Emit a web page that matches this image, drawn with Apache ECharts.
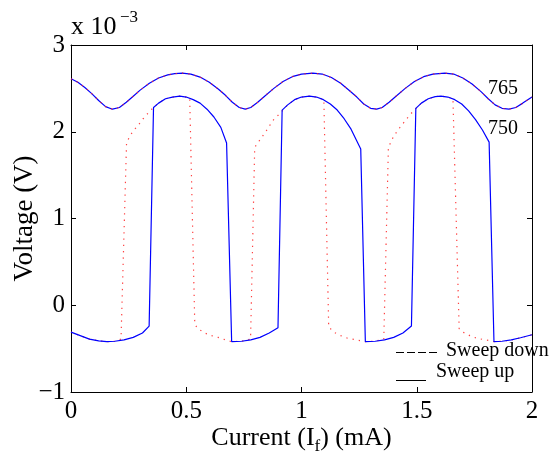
<!DOCTYPE html>
<html>
<head>
<meta charset="utf-8">
<script src="https://cdn.jsdelivr.net/npm/echarts@6/dist/echarts.min.js"></script>
<style>html,body{margin:0;padding:0;background:#fff}#c{width:551px;height:455px}</style>
</head>
<body>
<div id="c"></div>
<script>
// ---- data (x in mA, y in units of 1e-3 V) ----
const xTicks = [0, 0.5, 1, 1.5, 2];
const yTicks = [-1, 0, 1, 2, 3];

// 765 curve (sweep up and sweep down coincide)
const c765X = [0, 0.03, 0.06, 0.09, 0.12, 0.15, 0.18, 0.21, 0.24, 0.27, 0.30, 0.34, 0.38, 0.42, 0.45, 0.483, 0.52, 0.56, 0.60, 0.64, 0.67, 0.70, 0.73, 0.756, 0.78, 0.81, 0.84, 0.88, 0.92, 0.96, 1.00, 1.049, 1.09, 1.13, 1.17, 1.21, 1.24, 1.27, 1.30, 1.326, 1.35, 1.38, 1.41, 1.45, 1.49, 1.53, 1.57, 1.622, 1.66, 1.70, 1.74, 1.78, 1.81, 1.84, 1.87, 1.90, 1.93, 1.96, 2.00];
const c765Y = [2.61, 2.57, 2.51, 2.44, 2.36, 2.29, 2.26, 2.28, 2.34, 2.41, 2.48, 2.56, 2.62, 2.655, 2.67, 2.675, 2.665, 2.63, 2.57, 2.49, 2.42, 2.34, 2.28, 2.26, 2.28, 2.34, 2.41, 2.50, 2.58, 2.635, 2.665, 2.675, 2.665, 2.625, 2.56, 2.47, 2.40, 2.32, 2.27, 2.26, 2.28, 2.34, 2.41, 2.50, 2.58, 2.635, 2.665, 2.675, 2.665, 2.62, 2.55, 2.46, 2.38, 2.31, 2.27, 2.26, 2.28, 2.33, 2.40];

// 750 curve, sweep up
const up750X = [0, 0.04, 0.08, 0.12, 0.155, 0.19, 0.23, 0.27, 0.31, 0.339, 0.358, 0.38, 0.41, 0.44, 0.472, 0.50, 0.53, 0.56, 0.59, 0.62, 0.65, 0.675, 0.697, 0.74, 0.78, 0.82, 0.86, 0.898, 0.916, 0.94, 0.97, 1.00, 1.035, 1.065, 1.095, 1.125, 1.155, 1.185, 1.215, 1.257, 1.277, 1.32, 1.36, 1.40, 1.44, 1.477, 1.496, 1.52, 1.55, 1.58, 1.605, 1.635, 1.665, 1.695, 1.725, 1.755, 1.785, 1.814, 1.835, 1.87, 1.91, 1.95, 2.00];
const up750Y = [-0.31, -0.35, -0.39, -0.41, -0.42, -0.415, -0.40, -0.37, -0.32, -0.24, 2.28, 2.33, 2.38, 2.40, 2.41, 2.40, 2.37, 2.33, 2.26, 2.17, 2.05, 1.87, -0.42, -0.415, -0.40, -0.37, -0.32, -0.26, 2.25, 2.31, 2.37, 2.40, 2.41, 2.40, 2.37, 2.32, 2.25, 2.15, 2.03, 1.80, -0.42, -0.415, -0.40, -0.37, -0.32, -0.24, 2.27, 2.33, 2.38, 2.405, 2.41, 2.40, 2.37, 2.32, 2.24, 2.14, 2.02, 1.88, -0.42, -0.415, -0.40, -0.375, -0.34];

// 750 curve, sweep down
const down750X = [0, 0.04, 0.08, 0.12, 0.155, 0.19, 0.217, 0.241, 0.255, 0.27, 0.29, 0.313, 0.339, 0.358, 0.38, 0.41, 0.44, 0.472, 0.50, 0.515, 0.537, 0.551, 0.58, 0.609, 0.638, 0.66, 0.697, 0.74, 0.779, 0.797, 0.818, 0.847, 0.876, 0.91, 0.94, 0.97, 1.00, 1.035, 1.065, 1.097, 1.118, 1.14, 1.17, 1.20, 1.24, 1.277, 1.32, 1.357, 1.377, 1.40, 1.43, 1.46, 1.482, 1.52, 1.55, 1.58, 1.605, 1.635, 1.657, 1.684, 1.70, 1.73, 1.76, 1.80, 1.835, 1.87, 1.91, 1.95, 2.00];
const down750Y = [-0.31, -0.35, -0.39, -0.41, -0.42, -0.415, -0.39, 1.87, 1.95, 2.01, 2.07, 2.15, 2.23, 2.28, 2.33, 2.38, 2.40, 2.41, 2.40, 2.39, -0.22, -0.27, -0.32, -0.35, -0.37, -0.39, -0.42, -0.415, -0.39, 1.82, 1.90, 2.01, 2.13, 2.22, 2.31, 2.37, 2.40, 2.41, 2.40, 2.37, -0.25, -0.31, -0.35, -0.38, -0.40, -0.42, -0.415, -0.39, 1.82, 1.95, 2.06, 2.16, 2.23, 2.33, 2.38, 2.405, 2.41, 2.40, 2.38, -0.27, -0.31, -0.35, -0.38, -0.40, -0.42, -0.415, -0.40, -0.375, -0.34];

const curveLabels = ['765', '750'];
const legendLabels = ['Sweep down', 'Sweep up'];

function pairs(xs, ys) { return xs.map((x, i) => [x, ys[i]]); }

const FONT = '"Liberation Serif", "Times New Roman", serif';
const chart = echarts.init(document.getElementById('c'), null, {renderer: 'canvas'});

const blue = {color: '#0000ff', width: 1.2, type: 'solid'};
const red = {color: '#ff2020', width: 1.2, type: [1.3, 5], opacity: 0.85};

const axisCommon = {
  axisLine: {show: true, onZero: false, lineStyle: {color: '#000', width: 1}},
  axisTick: {show: true, inside: true, length: 5, lineStyle: {color: '#000', width: 1}},
  splitLine: {show: false}
};

chart.setOption({
  animation: false,
  backgroundColor: '#fff',
  grid: {left: 71, right: 19, top: 45, bottom: 63, containLabel: false, outerBoundsMode: 'none'},
  xAxis: [
    Object.assign({
      type: 'value', min: xTicks[0], max: xTicks[xTicks.length - 1], interval: 0.5, position: 'bottom',
      axisLabel: {show: true, color: '#000', fontFamily: FONT, fontSize: 25, margin: 7,
        formatter: v => String(v)},
      name: 'Current (I{s|f}) (mA)', nameLocation: 'middle', nameGap: 30, nameMoveOverlap: false,
      nameTextStyle: {color: '#000', fontFamily: FONT, fontSize: 26,
        rich: {s: {fontFamily: FONT, fontSize: 17, color: '#000', padding: [16, 0, 0, 0]}}}
    }, axisCommon),
    Object.assign({
      type: 'value', min: 0, max: 2, interval: 0.5, position: 'top',
      axisLabel: {show: false}
    }, axisCommon)
  ],
  yAxis: [
    Object.assign({
      type: 'value', min: yTicks[0], max: yTicks[yTicks.length - 1], interval: 1, position: 'left',
      axisLabel: {show: true, color: '#000', fontFamily: FONT, fontSize: 25, margin: 6,
        formatter: v => (v < 0 ? '\u2212' + Math.abs(v) : String(v))},
      name: 'Voltage (V)', nameLocation: 'middle', nameGap: 33, nameMoveOverlap: false,
      nameTextStyle: {color: '#000', fontFamily: FONT, fontSize: 27}
    }, axisCommon),
    Object.assign({
      type: 'value', min: -1, max: 3, interval: 1, position: 'right',
      axisLabel: {show: false}
    }, axisCommon)
  ],
  series: [
    {name: '765 up', type: 'line', data: pairs(c765X, c765Y), symbol: 'none', lineStyle: blue, z: 2},
    {name: '765 down', type: 'line', data: pairs(c765X, c765Y), symbol: 'none', lineStyle: red, z: 3},
    {name: '750 down', type: 'line', data: pairs(down750X, down750Y), symbol: 'none', lineStyle: red, z: 2},
    {name: '750 up', type: 'line', data: pairs(up750X, up750Y), symbol: 'none', lineStyle: blue, z: 3}
  ],
  graphic: [
    {type: 'text', left: 71, top: 14, style: {text: 'x 10', font: '26px ' + FONT, fill: '#000'}},
    {type: 'text', left: 120, top: 9, style: {text: '\u22123', font: '17px ' + FONT, fill: '#000'}},
    {type: 'text', left: 488, top: 79, style: {text: curveLabels[0], font: '20px ' + FONT, fill: '#000'}},
    {type: 'text', left: 488, top: 119, style: {text: curveLabels[1], font: '20px ' + FONT, fill: '#000'}},
    {type: 'line', shape: {x1: 396, y1: 352.5, x2: 439, y2: 352.5}, style: {stroke: '#000', lineWidth: 1, lineDash: [8, 3]}},
    {type: 'text', left: 446, top: 341, style: {text: legendLabels[0], font: '20px ' + FONT, fill: '#000'}},
    {type: 'line', shape: {x1: 396, y1: 380.5, x2: 426, y2: 380.5}, style: {stroke: '#000', lineWidth: 1}},
    {type: 'text', left: 436, top: 362, style: {text: legendLabels[1], font: '20px ' + FONT, fill: '#000'}}
  ]
});
</script>
</body>
</html>
